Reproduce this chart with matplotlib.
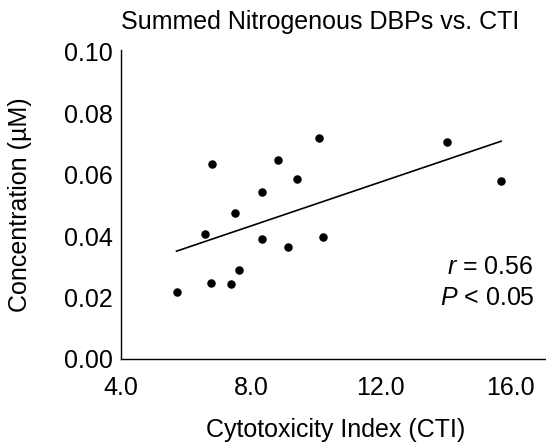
import matplotlib
matplotlib.use('Agg')
import matplotlib.pyplot as plt
import numpy as np

plt.rcParams['font.family'] = ['Liberation Sans', 'DejaVu Sans']
plt.rcParams['mathtext.fontset'] = 'custom'
plt.rcParams['mathtext.rm'] = 'Liberation Sans'
plt.rcParams['mathtext.it'] = 'Liberation Sans:italic'

# data
cti = [5.71, 6.78, 7.38, 7.64, 6.58, 6.81, 7.52, 8.33, 8.35, 8.84,
       9.43, 9.14, 10.09, 10.23, 14.04, 15.70]
conc = [0.0217, 0.0246, 0.0245, 0.0289, 0.0407, 0.0635, 0.0476, 0.0545,
        0.0390, 0.0648, 0.0586, 0.0366, 0.0720, 0.0397, 0.0706, 0.0580]
xticks = [4.0, 8.0, 12.0, 16.0]
yticks = [0.00, 0.02, 0.04, 0.06, 0.08, 0.10]

fs = 18

fig = plt.figure(figsize=(5.46, 4.44), dpi=100)
ax = fig.add_axes([121/546, 1-359/444, 424/546, 309/444])

ax.scatter(cti, conc, s=26, color='black', zorder=3)

# least squares trendline across the data range
m, b = np.polyfit(cti, conc, 1)
xs = np.array([min(cti), max(cti)])
ax.plot(xs, m*xs + b, color='black', lw=1.2)

ax.set_xlim(4, 17.05)
ax.set_ylim(0, 0.1006)
ax.set_xticks(xticks)
ax.set_xticklabels(['%.1f' % t for t in xticks])
ax.set_yticks(yticks)
ax.set_yticklabels(['%.2f' % t for t in yticks])
ax.tick_params(length=0, labelsize=fs)
ax.tick_params(axis='x', pad=12)
ax.tick_params(axis='y', pad=6)
ax.spines['top'].set_visible(False)
ax.spines['right'].set_visible(False)
for s in ['left', 'bottom']:
    ax.spines[s].set_linewidth(1.0)

ax.text(0.972, 0.298, '$r$ = 0.56', transform=ax.transAxes, ha='right', va='center', fontsize=fs)
ax.text(0.975, 0.197, '$P$ < 0.05', transform=ax.transAxes, ha='right', va='center', fontsize=fs)

fig.text(320/546, 1-22/444, 'Summed Nitrogenous DBPs vs. CTI', ha='center', va='center', fontsize=fs)
fig.text(336/546, 1-430/444, 'Cytotoxicity Index (CTI)', ha='center', va='center', fontsize=fs)
fig.text(20/546, 1-205/444, 'Concentration (µM)', ha='center', va='center', rotation=90, fontsize=fs)

fig.savefig('out.png', dpi=100)
